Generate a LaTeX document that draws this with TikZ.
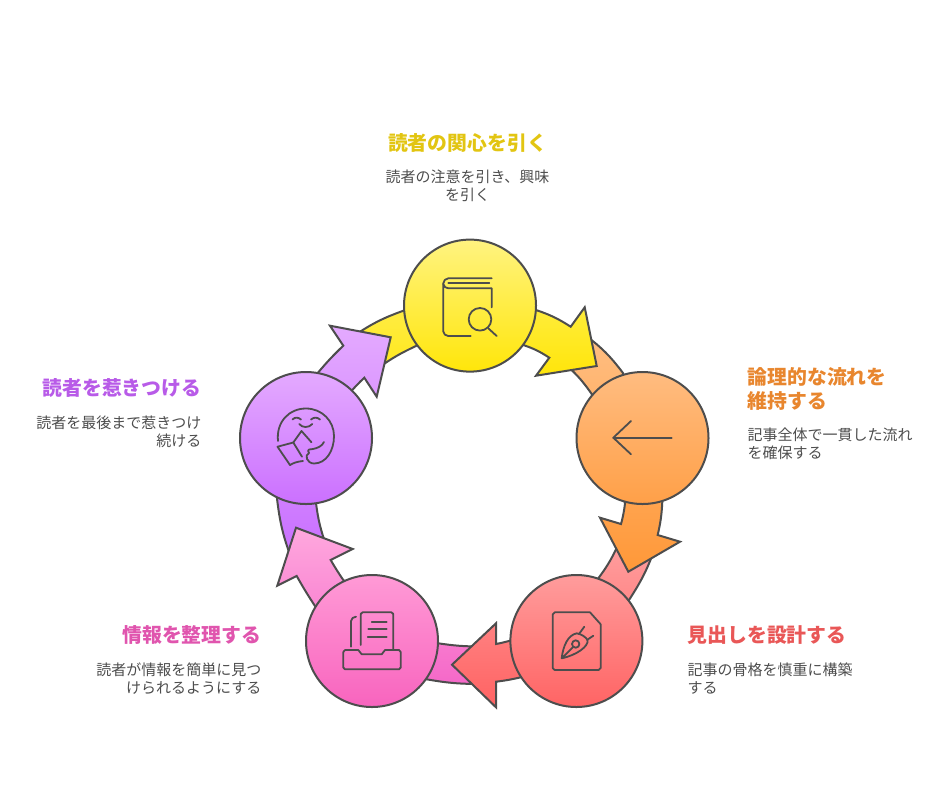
\documentclass[tikz,border=0pt]{standalone}
\usepackage{fontspec}
\setmainfont{Noto Sans CJK JP}
\usetikzlibrary{positioning, backgrounds}
\definecolor{ink}{HTML}{4D4D4D}
\begin{document}
\begin{tikzpicture}[
        x=1pt, y=-1pt,
        hub/.style={
                circle,
                draw=ink,
                line width=2pt,
                inner sep=0pt,
                minimum size=132pt
            },
        band/.style={draw=ink, line width=2pt},
        glyph/.style={draw=ink, line width=1.8pt, line cap=round, line join=round},
        header/.style={inner sep=0pt, font=\fontsize{19.85}{24}\selectfont\bfseries},
        blurb/.style={inner sep=0pt, text=ink, font=\fontsize{15}{18}\selectfont}
    ]
    \useasboundingbox (0,0) rectangle (949,788);

    \node[hub,top color={rgb,255:red,255;green,243;blue,128},bottom color={rgb,255:red,255;green,230;blue,10}] (attract) at (470,305.6) {};
    \node[hub,top color={rgb,255:red,255;green,188;blue,128},bottom color={rgb,255:red,255;green,160;blue,72}] (sustain) at (642.5,438) {};
    \node[hub,top color={rgb,255:red,255;green,156;blue,156},bottom color={rgb,255:red,255;green,100;blue,100}] (outline) at (576.4,641) {};
    \node[hub,top color={rgb,255:red,255;green,154;blue,214},bottom color={rgb,255:red,248;green,100;blue,190}] (organize) at (372,641) {};
    \node[hub,top color={rgb,255:red,228;green,170;blue,255},bottom color={rgb,255:red,203;green,112;blue,255}] (engage) at (306,438) {};

    \begin{scope}[on background layer]
        % tail of the yellow one goes first, its head last
        \path[band,top color={rgb,255:red,255;green,236;blue,70},bottom color={rgb,255:red,255;green,232;blue,28}]
            (355,335) to[bend left=7] (404,310.5) -- (attract.center) -- (416,346) to[bend right=5] (378,368) -- cycle;
        \path[band,top color={rgb,255:red,228;green,170;blue,255},bottom color={rgb,255:red,200;green,110;blue,255}]
            (292,560) to[bend left=7] (277,498.5) -- (318.3,372.3) to[bend left=3] (343.3,345.7) -- (330,325.7)
            -- (390.7,337.3) -- (376.7,396.7) -- (364.3,377.7) to[bend right=2] (352.3,390) -- (316,503)
            to[bend right=6] (326,545) -- cycle;
        \path[band,top color={rgb,255:red,255;green,168;blue,222},bottom color={rgb,255:red,245;green,104;blue,200}]
            (480,684) to[bend left=5] (425,679) -- (315,606) to[bend left=2] (296.7,576) -- (277.3,585.7)
            -- (296,527.7) -- (352.7,549) -- (330.7,560) to[bend right=2] (343.3,580) -- (438.3,643.3)
            to[bend right=4] (480,646.5) -- cycle;
        \path[band,top color={rgb,255:red,255;green,160;blue,160},bottom color={rgb,255:red,255;green,98;blue,98}]
            (656,545) to[bend left=7] (629,600) -- (520.7,677.3) to[bend left=3] (496,681.7) -- (496,707.3)
            -- (452,664.7) -- (496,623.3) -- (496,644) to[bend right=2] (510,640.7) -- (598.3,578.3)
            to[bend right=7] (620,540) -- cycle;
        \path[band,top color={rgb,255:red,255;green,190;blue,130},bottom color={rgb,255:red,255;green,152;blue,56}]
            (585,335) to[bend left=8] (623,373) -- (662.3,501.7) to[bend left=5] (657.7,535) -- (680,541.7)
            -- (628.3,571.7) -- (600,517.7) -- (621,524) to[bend right=4] (625,503.3) -- (591.7,394)
            to[bend right=8] (560,360) -- cycle;
        \path[band,top color={rgb,255:red,255;green,237;blue,60},bottom color={rgb,255:red,255;green,229;blue,10}]
            (attract.center) -- (536,310) to[bend left=7] (570.7,326.7) -- (584.7,307.3) -- (596.7,366)
            -- (536,375.7) -- (549.3,357.7) to[bend right=7] (523.3,345) -- cycle;
    \end{scope}

    % book and lens
    \draw[glyph] (491.7,278.3) -- (448.3,278.3) to[bend right=40] (443.3,283.3) -- (443.3,331.5) to[bend right=40] (448.3,336) -- (470.7,336);
    \draw[glyph] (448.3,283.3) -- (489.3,283.3);
    \draw[glyph] (443.3,284) to[bend right=40] (448.3,288.3) -- (491.7,288.3) -- (491.7,307.3);
    \draw[glyph] (480,319.3) circle (11.3);
    \draw[glyph] (488.7,328.7) -- (496.7,336);
    % arrow
    \draw[glyph] (671.7,437.7) -- (613.3,437.7);
    \draw[glyph] (631,421) -- (613.3,437.7) -- (631,454.3);
    % sheet and nib
    \draw[glyph] (590,612.3) -- (554.7,612.3) to[bend right=40] (552.7,614.3) -- (552.7,668) to[bend right=40] (554.7,670) -- (598.7,670) to[bend right=40] (600.7,668) -- (600.7,624.3) -- cycle;
    \draw[glyph] (561.7,658.3) .. controls (563,646) and (568,635) .. (576.7,633.3) .. controls (581,634) and (586,637) .. (587.5,640) .. controls (589,646) and (577,655) .. (561.7,658.3) -- (572.7,647.3);
    \draw[glyph] (575.7,644) circle (3.7);
    \draw[glyph] (579,634) -- (584.3,626.7);
    \draw[glyph] (587,640) -- (593.3,635.7);
    % tray and papers
    \draw[glyph] (345,650) -- (358.3,650) -- (361.7,654.3) -- (381.7,654.3) -- (385,650) -- (399,650) to[bend left=30] (400.7,652) -- (400.7,667.5) to[bend left=30] (399,669.3) -- (345,669.3) to[bend left=30] (343.3,667.5) -- (343.3,652) to[bend left=30] (345,650);
    \draw[glyph] (360.7,645) -- (360.7,614) to[bend left=30] (362.5,612.3) -- (391.5,612.3) to[bend left=30] (393.3,614) -- (393.3,650);
    \draw[glyph] (351,646.7) -- (351,621) to[bend left=40] (356,616.7);
    \draw[glyph] (371.7,622.3) -- (386.7,622.3);
    \draw[glyph] (368.3,629.3) -- (386.7,629.3);
    \draw[glyph] (367.7,636.7) -- (386.7,636.7);
    % reader
    \draw[glyph] (278,441) .. controls (276,422) and (289,408.5) .. (306,408.5) .. controls (322,408.5) and (334,421) .. (334,436)
        .. controls (334,451) and (326,463.5) .. (314,463.5) .. controls (307,463.5) and (304,455) .. (309,453)
        .. controls (306,449) and (311,449) .. (313,449) .. controls (318,448) and (322,446) .. (324,442);
    \draw[glyph] (292.5,419.5) .. controls (295,417) and (298,417) .. (301,419.5);
    \draw[glyph] (311,419.5) .. controls (314,417) and (317,417) .. (320,419.5);
    \draw[glyph] (299.3,424) .. controls (302,428) and (309,428) .. (312.3,424);
    \draw[glyph] (290,465) -- (277.5,446.7) -- (293.3,442.5) -- (302,456.7);
    \draw[glyph] (290,465) .. controls (294,462.5) and (298,461.5) .. (303,461);
    \draw[glyph] (293.3,442.5) -- (301.5,431) -- (311.5,442.3);

    \node[header,text={rgb,255:red,226;green,197;blue,18}] (attracthead) at (467.5,142.5) {読者の関心を引く};
    \node[blurb,align=center] (attracttext) [below=17.5pt of attracthead] {読者の注意を引き、興味\\を引く};
    \node[header,text={rgb,255:red,232;green,134;blue,46},align=left,anchor=north west] (sustainhead) at (747.5,367.5) {論理的な流れを\\維持する};
    \node[blurb,align=left,anchor=north west] (sustaintext) [below=17pt of sustainhead.south west,anchor=north west] {記事全体で一貫した流れ\\を確保する};
    \node[header,text={rgb,255:red,233;green,87;blue,87},anchor=west] (outlinehead) at (687.5,635) {見出しを設計する};
    \node[blurb,align=left] (outlinetext) [below=17.5pt of outlinehead.south west,anchor=north west] {記事の骨格を慎重に構築\\する};
    \node[header,text={rgb,255:red,224;green,85;blue,174},anchor=east] (organizehead) at (261.5,635) {情報を整理する};
    \node[blurb,align=right] (organizetext) [below=17.5pt of organizehead.south east,anchor=north east] {読者が情報を簡単に見つ\\けられるようにする};
    \node[header,text={rgb,255:red,184;green,91;blue,232},anchor=east] (engagehead) at (201.5,388) {読者を惹きつける};
    \node[blurb,align=right] (engagetext) [below=17.5pt of engagehead.south east,anchor=north east] {読者を最後まで惹きつけ\\続ける};
\end{tikzpicture}
\end{document}
